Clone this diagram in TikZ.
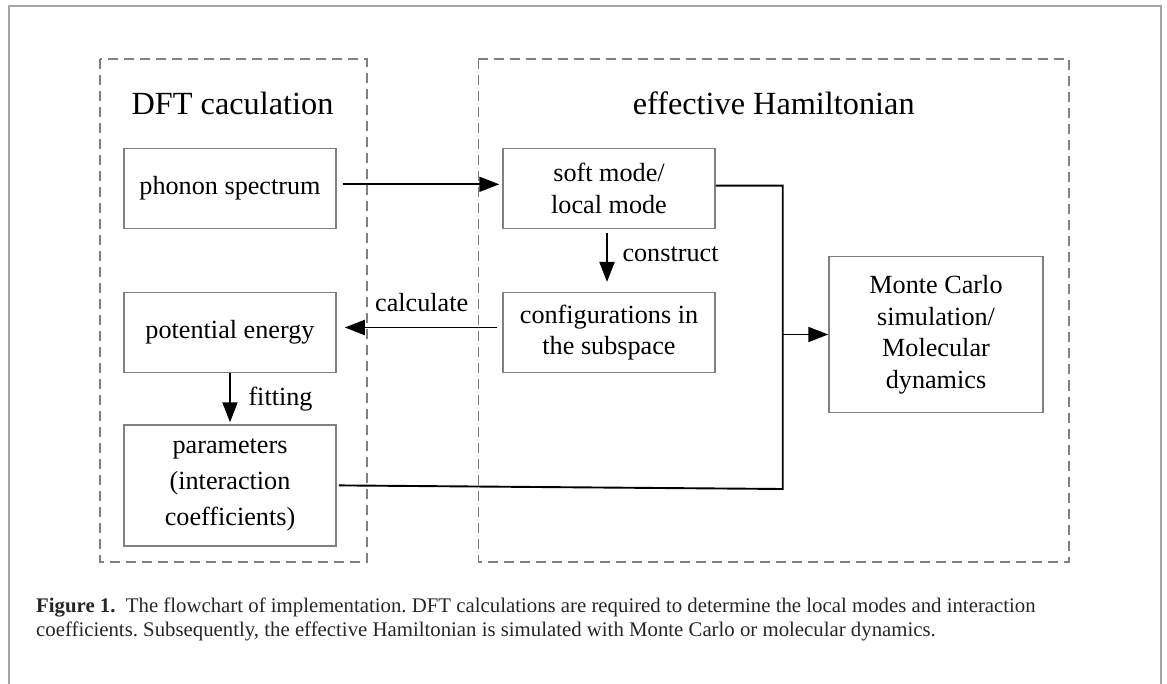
\documentclass[tikz,border=0pt]{standalone}
\usepackage{fontspec}
\setmainfont{Liberation Serif}
\usetikzlibrary{arrows.meta}

\begin{document}
\begin{tikzpicture}[x=1pt, y=-1pt,
    block/.style ={draw=black!50, line width=1.5pt, minimum width=212pt, inner sep=0pt,
                   align=center, font=\fontsize{26.2}{31.5}\selectfont},
    group/.style ={draw=black!50, line width=1.6pt, dash pattern=on 10pt off 6pt},
    flow/.style ={line width=1.9pt, -{Triangle[length=20pt,width=15pt]}},
    wire/.style ={line width=1.9pt},
    tag/.style ={inner sep=0pt, font=\fontsize{26.2}{31.5}\selectfont},
    heading/.style ={inner sep=0pt, font=\fontsize{32.3}{38}\selectfont}]
   \useasboundingbox (0,0) rectangle (1167,684);
   \draw[black!35, line width=1.2pt] (9,684) |- (1161,6) -- (1161,684);

   % the two stages
   \draw[group] (100,59.3) rectangle (366.7,561.7);
   \draw[group] (478.3,59.3) rectangle (1068.7,561.7);
   \node[heading, anchor=base] (dft) at (232.5,115) {DFT caculation};
   \node[heading, anchor=base] (ham) at (773.7,115) {effective Hamiltonian};

   \node[block, minimum height=80pt] (phonon)    at (230,188.3) {phonon spectrum};
   \node[block, minimum height=80pt] (soft)      at (609,188.3) {soft mode/\\local mode};
   \node[block, minimum height=79.6pt] (config)  at (609,332.5) {configurations in\\the subspace};
   \node[block, minimum height=79.6pt] (potential) at (230,332.5) {potential energy};
   \node[block, minimum height=120.7pt, font=\fontsize{26.2}{36}\selectfont] (params) at (230,485.4)
        {parameters\\(interaction\\coefficients)};
   \node[block, minimum width=214pt, minimum height=156.4pt] (mc) at (936,334.5)
        {Monte Carlo\\simulation/\\Molecular\\dynamics};
   \coordinate (bus) at (782.7,489);

   \draw[flow, shorten <=6pt, shorten >=3pt] ([yshift=4pt]phonon.east) to ([yshift=4pt]soft.west);
   \draw[flow, shorten <=4pt, shorten >=10pt] ([xshift=-2pt]soft.south) to ([xshift=-2pt]config.north);
   \draw[flow, shorten <=5pt, shorten >=8pt] ([yshift=5pt]config.west) to ([yshift=5pt]potential.east);
   \draw[flow, shorten >=2pt] (potential.south) to (params.north);
   \draw[wire] ([yshift=2.6pt]soft.east) -| (bus) -- ([xshift=2pt]params.east);
   \draw[flow] (mc.west -| bus) to (mc.west);

   \node[tag, anchor=base] (calc) at (421.7,312) {calculate};
   \node[tag, anchor=base west] (build) at (622.3,261.7) {construct};
   \node[tag, anchor=base west] (fit) at (248.3,406) {fitting};

   \node[anchor=base west, align=left, inner sep=0pt, text=black!85,
         font=\fontsize{20.8}{24}\selectfont\frenchspacing] (caption) at (36,636)
        {\textbf{Figure 1.}\ \ The flowchart of implementation. DFT calculations are required to determine the local modes and interaction\\
         coefficients. Subsequently, the effective Hamiltonian is simulated with Monte Carlo or molecular dynamics.};
 \end{tikzpicture}
\end{document}
